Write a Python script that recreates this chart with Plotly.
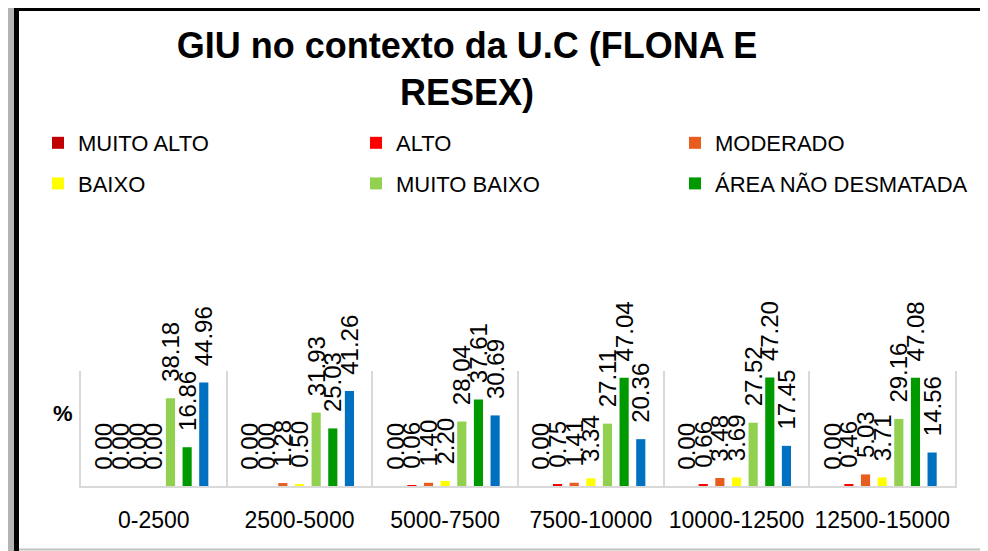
import plotly.graph_objects as go

# dados (%)
categorias = ["0-2500", "2500-5000", "5000-7500", "7500-10000", "10000-12500", "12500-15000"]
muito_alto = [0.00, 0.00, 0.00, 0.00, 0.00, 0.00]
alto = [0.00, 0.00, 0.06, 0.75, 0.66, 0.46]
moderado = [0.00, 1.28, 1.40, 1.41, 3.48, 5.03]
baixo = [0.00, 0.50, 2.20, 3.34, 3.69, 3.71]
muito_baixo = [38.18, 31.93, 28.04, 27.11, 27.52, 29.16]
area_nao_desmatada = [16.86, 25.03, 37.61, 47.04, 47.20, 47.08]
outros = [44.96, 41.26, 30.69, 20.36, 17.45, 14.56]

# nome, valores, cor, legenda (coluna)
series = [
    ("MUITO ALTO", muito_alto, "#C00000", "legend"),
    ("ALTO", alto, "#FF0000", "legend2"),
    ("MODERADO", moderado, "#E85C1E", "legend3"),
    ("BAIXO", baixo, "#FFFF00", "legend"),
    ("MUITO BAIXO", muito_baixo, "#92D050", "legend2"),
    ("ÁREA NÃO DESMATADA", area_nao_desmatada, "#009A00", "legend3"),
    ("OUTROS", outros, "#0070C0", None),
]

FONT = "Liberation Sans, Arial, sans-serif"

# a pagina tem 8px de margem no body -> figura 980x543
OFF = 8
W, H = 988 - OFF, 551 - OFF
# area do grafico em pixels da imagem original
L, R, T, B = 81, 955, 371, 486


def px_x(p):
    return (p - L) / (R - L)


def px_y(p):
    return (B - p) / (B - T)


def cx(p):
    return (p - OFF) / W


def cy(p):
    return 1 - (p - OFF) / H


fig = go.Figure()
for nome, valores, cor, leg in series:
    fig.add_trace(go.Bar(
        x=categorias,
        y=valores,
        name=nome,
        legendgroup=nome,
        marker=dict(color=cor, line=dict(width=0)),
        texttemplate="\u00a0\u00a0%{y:.2f}",
        textposition="outside",
        textangle=-90,
        constraintext="none",
        cliponaxis=False,
        textfont=dict(family=FONT, size=24, color="black"),
        showlegend=leg is not None,
        legend=leg if leg else "legend",
    ))

# moldura
frame = [
    dict(type="rect", x0=px_x(0), x1=px_x(5), y0=px_y(0), y1=px_y(551),
         fillcolor="black", line=dict(width=0)),
    dict(type="rect", x0=px_x(5), x1=px_x(14), y0=px_y(0), y1=px_y(551),
         fillcolor="#b4b4b4", line=dict(width=0)),
    dict(type="line", x0=px_x(16.5), x1=px_x(16.5), y0=px_y(6), y1=px_y(551),
         line=dict(color="black", width=5)),
    dict(type="line", x0=px_x(14), x1=px_x(986), y0=px_y(8.5), y1=px_y(8.5),
         line=dict(color="black", width=5)),
    dict(type="line", x0=px_x(983.5), x1=px_x(983.5), y0=px_y(6), y1=px_y(551),
         line=dict(color="black", width=5)),
    dict(type="line", x0=px_x(19), x1=px_x(981), y0=px_y(549.5), y1=px_y(549.5),
         line=dict(color="#bfbfbf", width=2)),
]
for s in frame:
    s.update(xref="paper", yref="paper")


def legenda(col_x):
    return dict(
        orientation="v", xref="container", yref="container",
        x=cx(col_x), xanchor="left",
        y=cy(122), yanchor="top",
        tracegroupgap=9,
        font=dict(family=FONT, size=22, color="black"),
        bgcolor="rgba(0,0,0,0)",
    )


fig.update_layout(
    width=W,
    height=H,
    margin=dict(l=L - OFF, r=W - (R - OFF), t=T - OFF, b=H - (B - OFF), autoexpand=False),
    paper_bgcolor="white",
    plot_bgcolor="white",
    barmode="group",
    bargap=0.2,
    bargroupgap=0.45,
    font=dict(family=FONT, color="black"),
    title=dict(
        text="<b>GIU no contexto da U.C (FLONA E<br>RESEX)</b>",
        x=cx(467), xanchor="center",
        y=1 - 50 / H, yanchor="top",
        font=dict(family=FONT, size=36, color="black"),
    ),
    legend=legenda(38),
    legend2=legenda(356),
    legend3=legenda(675),
    xaxis=dict(
        type="category",
        tickson="boundaries",
        showgrid=True, gridcolor="#d9d9d9", gridwidth=2,
        showline=True, linecolor="#d9d9d9", linewidth=2,
        ticks="", ticklabelstandoff=12,
        tickangle=0,
        tickfont=dict(family=FONT, size=23, color="black"),
        automargin=False,
        fixedrange=True,
    ),
    yaxis=dict(
        range=[0, 50],
        showgrid=False, zeroline=False, showticklabels=False,
        showline=True, linecolor="#d9d9d9", linewidth=2, mirror=True,
        automargin=False,
    ),
    shapes=frame,
    annotations=[dict(
        text="<b>%</b>", x=px_x(63), y=px_y(413), xref="paper", yref="paper",
        xanchor="center", yanchor="middle",
        showarrow=False, font=dict(family=FONT, size=22, color="black"),
    )],
)

fig.write_html("out.html")
